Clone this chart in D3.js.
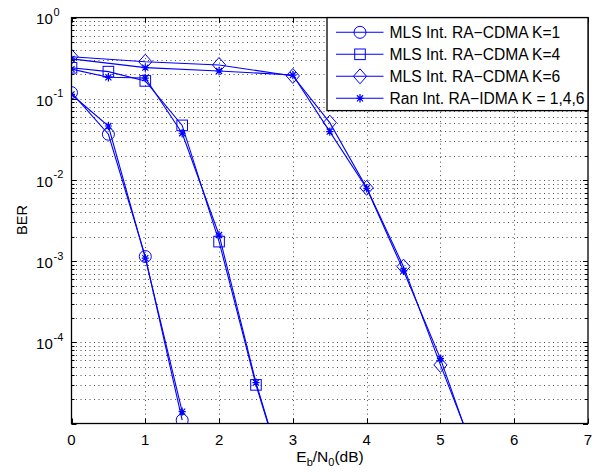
<!DOCTYPE html>
<html><head><meta charset="utf-8">
<script src="https://cdn.jsdelivr.net/npm/d3@7"></script>
<style>body{margin:0;background:#fff}svg{display:block}</style>
</head><body>
<script>
// ---- data ----
const xK1 = [0, 0.5, 1, 1.5];
const berMlsK1 = [0.119, 0.0366, 1.14e-3, 1.1e-5];
const berRanK1 = [0.113, 0.0462, 1.09e-3, 1.4e-5];
const xK4 = [0, 0.5, 1, 1.5, 2, 2.5, 3];
const berMlsK4 = [0.241, 0.216, 0.166, 0.047, 1.74e-3, 2.99e-5, 1.0e-6];
const berRanK4 = [0.232, 0.184, 0.18, 0.0376, 2.1e-3, 3.19e-5, 1.0e-6];
const xK6 = [0, 1, 2, 3, 3.5, 4, 4.5, 5, 5.5];
const berMlsK6 = [0.33, 0.286, 0.261, 0.191, 0.0508, 8.0e-3, 8.55e-4, 5.27e-5, 3.6e-6];
const berRanK6 = [0.31, 0.242, 0.22, 0.196, 0.0394, 7.9e-3, 7.6e-4, 6.3e-5, 3.2e-6];
const legendLabels = ["MLS Int. RA\u2212CDMA K=1", "MLS Int. RA\u2212CDMA K=4", "MLS Int. RA\u2212CDMA K=6", "Ran Int. RA\u2212IDMA K = 1,4,6"];
const xTicks = [0, 1, 2, 3, 4, 5, 6, 7];
const yTickExps = [0, -1, -2, -3, -4];

const series = [
  {x: xK1, y: berMlsK1, m: "circle"},
  {x: xK4, y: berMlsK4, m: "square"},
  {x: xK6, y: berMlsK6, m: "diamond"},
  {x: xK1, y: berRanK1, m: "star"},
  {x: xK4, y: berRanK4, m: "star"},
  {x: xK6, y: berRanK6, m: "star"}
];

const W = 594, H = 473;
const L = 71.5, R = 588, T = 17.6, B = 423.5;
const blue = "#0000ff";
const font = "'Liberation Sans', Arial, Helvetica, sans-serif";

const svg = d3.select("body").append("svg").attr("width", W).attr("height", H);
const x = d3.scaleLinear().domain([0, 7]).range([L, R]);
const y = d3.scaleLog().domain([1e-5, 1]).range([B, T]);

svg.append("rect").attr("x", L).attr("y", T).attr("width", R - L).attr("height", B - T).attr("fill", "#fff");

// grid
const grid = svg.append("g").attr("stroke", "#000").attr("stroke-width", 1).attr("stroke-dasharray", "1,3.5").attr("opacity", 0.7);
xTicks.slice(1, -1).forEach(v => grid.append("line").attr("x1", Math.round(x(v)) + 0.5).attr("x2", Math.round(x(v)) + 0.5).attr("y1", T).attr("y2", B));
const minorVals = [];
for (let e = -5; e < 0; e++) for (let k = 1; k <= 9; k++) minorVals.push(k * Math.pow(10, e));
minorVals.forEach(v => { if (v > 1e-5) grid.append("line").attr("x1", L).attr("x2", R).attr("y1", Math.round(y(v)) + 0.5).attr("y2", Math.round(y(v)) + 0.5); });

// series
svg.append("clipPath").attr("id", "clip").append("rect").attr("x", L).attr("y", T).attr("width", R - L).attr("height", B - T);
const line = d3.line().x(d => x(d[0])).y(d => y(d[1]));
const plot = svg.append("g").attr("clip-path", "url(#clip)");

function marker(g, m, cx, cy) {
  if (m === "circle") g.append("circle").attr("cx", cx).attr("cy", cy).attr("r", 6).attr("fill", "none").attr("stroke", blue);
  else if (m === "square") g.append("rect").attr("x", cx - 5.3).attr("y", cy - 5.3).attr("width", 10.6).attr("height", 10.6).attr("fill", "none").attr("stroke", blue);
  else if (m === "diamond") g.append("path").attr("d", `M${cx},${cy - 7.5}L${cx + 6.6},${cy}L${cx},${cy + 7.5}L${cx - 6.6},${cy}Z`).attr("fill", "none").attr("stroke", blue);
  else {
    const r = 4.2, d = r * 0.72;
    g.append("path").attr("d", `M${cx},${cy - r}V${cy + r}M${cx - d},${cy - d}L${cx + d},${cy + d}M${cx - d},${cy + d}L${cx + d},${cy - d}M${cx - r * 0.85},${cy}H${cx + r * 0.85}`).attr("stroke", blue).attr("fill", "none").attr("stroke-width", 1.2);
  }
}

series.forEach(s => {
  const pts = s.x.map((v, i) => [v, s.y[i]]);
  plot.append("path").datum(pts).attr("d", line).attr("fill", "none").attr("stroke", blue).attr("stroke-width", 1.1);
  pts.forEach(p => { if (p[1] >= 1e-5) marker(plot, s.m, x(p[0]), y(p[1])); });
});

// ticks (inward, both sides)
const tk = svg.append("g").attr("stroke", "#000").attr("stroke-width", 1);
xTicks.forEach(v => {
  const xx = Math.round(x(v)) + 0.5;
  tk.append("line").attr("x1", xx).attr("x2", xx).attr("y1", B).attr("y2", B - 5);
  tk.append("line").attr("x1", xx).attr("x2", xx).attr("y1", T).attr("y2", T + 5);
});
minorVals.concat([1]).forEach(v => {
  const yy = Math.round(y(v)) + 0.5;
  const len = (Math.abs(Math.log10(v) - Math.round(Math.log10(v))) < 1e-9) ? 5 : 3;
  tk.append("line").attr("x1", L).attr("x2", L + len).attr("y1", yy).attr("y2", yy);
  tk.append("line").attr("x1", R).attr("x2", R - len).attr("y1", yy).attr("y2", yy);
});

// box
svg.append("rect").attr("x", L).attr("y", T).attr("width", R - L).attr("height", B - T).attr("fill", "none").attr("stroke", "#000").attr("stroke-width", 1.3);

// tick labels
xTicks.forEach(v => svg.append("text").attr("x", x(v)).attr("y", 444.5).attr("text-anchor", "middle").attr("font-family", font).attr("font-size", 15).text(v));
yTickExps.forEach(e => {
  const yy = y(Math.pow(10, e));
  svg.append("text").attr("x", 52.8).attr("y", yy + 6.8).attr("text-anchor", "end").attr("font-family", font).attr("font-size", 15).text("10");
  svg.append("text").attr("x", 53.5).attr("y", yy - 1.5).attr("font-family", font).attr("font-size", 11).text(e === 0 ? "0" : "-" + (-e));
});

// axis labels
svg.append("text").attr("transform", "translate(26.5,220) rotate(-90)").attr("text-anchor", "middle").attr("font-family", font).attr("font-size", 14.5).text("BER");
const xl = svg.append("text").attr("x", 330).attr("y", 461.7).attr("text-anchor", "middle").attr("font-family", font).attr("font-size", 15.5);
xl.append("tspan").text("E");
xl.append("tspan").attr("font-size", 11).attr("dy", 4.5).text("b");
xl.append("tspan").attr("dy", -4.5).text("/N");
xl.append("tspan").attr("font-size", 11).attr("dy", 4.5).text("0");
xl.append("tspan").attr("dy", -4.5).text("(dB)");

// legend
const lg = svg.append("g");
lg.append("rect").attr("x", 327).attr("y", T).attr("width", R - 327).attr("height", 93).attr("fill", "#fff").attr("stroke", "#000").attr("stroke-width", 1.3);
const legMarkers = ["circle", "square", "diamond", "star"];
legendLabels.forEach((lab, i) => {
  const yy = 32.3 + i * 22;
  lg.append("line").attr("x1", 336).attr("x2", 383.5).attr("y1", yy).attr("y2", yy).attr("stroke", blue).attr("stroke-width", 1.1);
  marker(lg, legMarkers[i], 360, yy);
  lg.append("text").attr("x", 389.5).attr("y", yy + 5.4).attr("font-family", font).attr("font-size", 15.6).text(lab);
});
</script>
</body></html>
